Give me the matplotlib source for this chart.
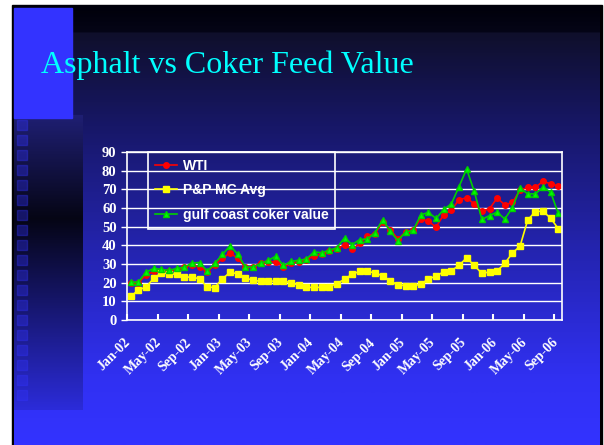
import numpy as np
import matplotlib
matplotlib.use("Agg")
import matplotlib.pyplot as plt
from matplotlib.colors import LinearSegmentedColormap
from matplotlib.patches import Rectangle

# monthly values, Jan-02 .. Sep-06
wti = [19.7, 20.0, 24.1, 26.0, 26.5, 26.3, 27.0, 28.5, 29.2, 28.5,
       25.8, 29.5, 33.0, 36.0, 33.0, 28.3, 28.2, 30.8, 31.0, 31.3,
       28.5, 30.3, 31.2, 32.4, 34.2, 35.3, 36.9, 37.9, 40.4, 37.9,
       41.0, 45.0, 46.3, 52.5, 48.4, 43.4, 47.1, 48.0, 54.3, 52.8,
       49.8, 56.4, 58.7, 64.5, 65.4, 62.2, 58.3, 59.6, 65.3, 61.7,
       63.0, 69.5, 71.0, 71.0, 74.3, 73.0, 71.8]
pp_mc = [12.6, 16.1, 17.7, 22.3, 25.2, 24.8, 24.4, 23.0, 23.0, 22.1,
         17.7, 17.4, 22.1, 25.5, 24.8, 22.5, 21.3, 20.7, 20.7, 20.9,
         21.1, 19.7, 18.9, 17.5, 17.5, 17.5, 17.9, 19.5, 21.8, 24.5,
         26.1, 26.0, 25.3, 23.6, 20.9, 18.8, 18.4, 18.4, 19.1, 22.1,
         23.4, 25.9, 26.4, 29.2, 33.3, 29.2, 25.0, 25.7, 26.3, 30.3,
         35.9, 39.5, 53.5, 58.1, 58.3, 54.6, 49.0]
gulf = [20.2, 20.4, 25.7, 27.6, 27.1, 26.6, 27.6, 28.3, 30.5, 30.8,
        26.2, 30.3, 35.1, 39.7, 35.3, 28.5, 28.3, 30.3, 31.9, 34.2,
        29.2, 31.4, 32.0, 32.6, 36.5, 36.0, 37.4, 38.6, 44.1, 40.4,
        43.1, 43.4, 46.8, 53.7, 47.5, 42.5, 47.1, 48.0, 56.4, 57.6,
        54.4, 59.2, 62.2, 71.4, 80.9, 68.9, 53.9, 55.9, 57.8, 54.1,
        60.1, 70.7, 67.6, 67.6, 71.1, 68.6, 57.2]
tick_labels = ['Jan-02', 'May-02', 'Sep-02', 'Jan-03', 'May-03', 'Sep-03',
               'Jan-04', 'May-04', 'Sep-04', 'Jan-05', 'May-05', 'Sep-05',
               'Jan-06', 'May-06', 'Sep-06']

fig = plt.figure(figsize=(6.04, 4.45), dpi=100)
fig.patch.set_facecolor('white')

# slide background (pixel coordinates)
bg = fig.add_axes([0, 0, 1, 1], zorder=0)
bg.add_patch(Rectangle((12, 5), 590, 440, color='black', zorder=0))
slide_cmap = LinearSegmentedColormap.from_list('slide', [
    (0.0, (0.0, 0.0, 0.04)),
    (0.06, (0.02, 0.02, 0.09)),
    (0.062, (0.06, 0.06, 0.17)),
    (0.27, (0.09, 0.09, 0.40)),
    (0.55, (0.14, 0.14, 0.68)),
    (0.85, (0.19, 0.19, 0.95)),
    (1.0, (0.2, 0.2, 1.0))])
grad = np.linspace(0, 1, 400).reshape(-1, 1)
bg.imshow(grad, cmap=slide_cmap, extent=(14, 600, 445, 5), aspect='auto', zorder=1)

# left decoration
strip_cmap = LinearSegmentedColormap.from_list('strip', [
    (0.0, (0.12, 0.12, 0.45)),
    (0.35, (0.02, 0.02, 0.08)),
    (1.0, (0.17, 0.17, 0.85))])
bg.imshow(grad, cmap=strip_cmap, extent=(14, 83, 410, 115), aspect='auto', zorder=2)
bg.add_patch(Rectangle((14, 8), 58, 110, color='#3333ff', zorder=3))
for yy in range(120, 405, 15):
    bg.add_patch(Rectangle((17, yy), 10, 10, color='#3333ff', alpha=0.35, zorder=3))
bg.set_xlim(0, 604)
bg.set_ylim(445, 0)
bg.axis('off')

bg.text(41, 73, 'Asphalt vs Coker Feed Value', color='#00ffff',
        fontsize=23, family='Liberation Serif', va='baseline', zorder=4)

# chart
ax = fig.add_axes([127 / 604, 1 - 320 / 445, 435 / 604, 168 / 445], zorder=1)
ax.set_facecolor('none')
x = np.arange(len(wti))

ax.plot(x, wti, color='red', marker='o', markersize=4, lw=1.2, label='WTI')
ax.plot(x, pp_mc, color='yellow', marker='s', markersize=4, lw=1.2, label='P&P MC Avg')
ax.plot(x, gulf, color='#00d000', marker='^', markersize=5, lw=1.2,
        markerfacecolor='#00ff00', markeredgecolor='#00d000', label='gulf coast coker value')

ax.set_xlim(-0.5, len(wti) - 0.5)
ax.set_ylim(0, 90)
ax.set_yticks(range(0, 91, 10))
ax.yaxis.grid(True, color='white', lw=1)
ax.set_axisbelow(True)

ax.set_xticks(np.arange(-0.5, len(wti) - 1, 4))
ax.set_xticklabels([])
ax.tick_params(axis='x', colors='white', length=4, width=1.5, direction='in')
ax.tick_params(axis='y', colors='white', length=4, width=1, direction='out')
for lab in ax.get_yticklabels():
    lab.set_family('Liberation Serif')
    lab.set_fontweight('bold')
    lab.set_fontsize(10.5)
    lab.set_color('white')

for i, lab in enumerate(tick_labels):
    ax.text(i * 4 - 0.9, -8.5, lab, rotation=45, ha='right', va='top',
            rotation_mode='anchor', color='white', fontsize=10,
            family='Liberation Serif', fontweight='bold')

for side in ax.spines.values():
    side.set_color('white')
    side.set_linewidth(1.2)

leg = ax.legend(loc='upper left', bbox_to_anchor=(0.048, 1.0), borderaxespad=0,
                fancybox=False, framealpha=1, edgecolor='white', labelcolor='white',
                prop={'family': 'Liberation Sans', 'weight': 'bold', 'size': 10},
                handlelength=1.6, labelspacing=0.75, borderpad=0.5, handletextpad=0.4)
leg.get_frame().set_facecolor('none')
leg.get_frame().set_linewidth(1.2)

plt.savefig('out.png', dpi=100)
